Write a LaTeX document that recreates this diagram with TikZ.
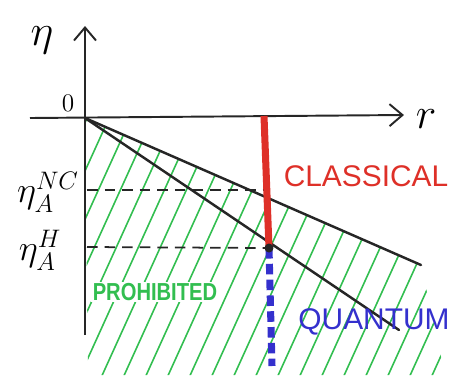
\documentclass[tikz,border=0pt]{standalone}
\usepackage{amsmath,amssymb}
\usepackage{fontspec}
\setsansfont{Liberation Sans}
\usetikzlibrary{arrows.meta,positioning}

\definecolor{skred}{RGB}{222,48,40}
\definecolor{skblue}{RGB}{52,48,205}
\definecolor{skgreen}{RGB}{50,190,80}

\begin{document}
\begin{tikzpicture}[x=0.2mm,y=-0.2mm,>={Straight Barb[length=2.6mm,width=4.4mm]},
  axis/.style={->,line width=1.1pt,draw=black!85},
  bound/.style={line width=1.4pt,draw=black!85,line cap=round},
  level/.style={line width=1pt,draw=black!85,dash pattern=on 6pt off 4pt},
  hatch/.style={draw=skgreen,line width=0.9pt},
  lab/.style={font=\sffamily\bfseries,inner sep=1pt},
  sym/.style={inner sep=0pt}]
\useasboundingbox (0,0) rectangle (459,375);

% axes and corner points
\coordinate (o) at (85,118);
\coordinate (ytop) at (85,26);
\coordinate (ybot) at (85,335);
\coordinate (xl) at (30,118);
\coordinate (xr) at (404,115);
\coordinate (up) at (421,265);
\coordinate (lo) at (399,330);
\coordinate (cl) at (264,116);
\coordinate (qt) at (269,248);
\coordinate (qb) at (272,366);
\coordinate (nc) at (87,190);
\coordinate (ncr) at (266,190);
\coordinate (h) at (87,247);

% hatched region
\begin{scope}
\clip (o) -- (up) -- (445,375) -- (88,375) -- cycle;
\foreach \s in {-120,-98,...,460}
  \draw[hatch] (\s,380) -- ++(150,-330);
\end{scope}

\node (proh) [lab,fill=white,text=skgreen,xscale=0.82,font=\sffamily\bfseries\fontsize{14}{14}\selectfont] at (155,292) {PROHIBITED};

\draw[axis] (ybot) -- (ytop);
\draw[axis] (xl) -- (xr);
\draw[bound] (o) -- (up);
\draw[bound] (o) -- (lo);

\draw[level] (nc) -- (ncr);
\draw[level] (h) -- (qt);

\draw[skred,line width=4pt] (cl) -- (qt);
\draw[skblue,line width=4pt,dash pattern=on 6pt off 3pt] (qt) -- (qb);
\fill[black!85] (qt) circle (4.5);

\node (eta) [sym,font=\fontsize{38}{38}\selectfont] at (42,40) {$\eta$};
\node (zero) [sym,font=\fontsize{15}{15}\selectfont] at (68,103) {$0$};
\node (r) [sym,font=\fontsize{24}{24}\selectfont] at (426,119) {$r$};
\node (etanc) [sym,font=\fontsize{20}{20}\selectfont] at (48,192) {$\eta_A^{NC}$};
\node (etah) [sym,font=\fontsize{20}{20}\selectfont] at (40,250) {$\eta_A^{H}$};
\node (clas) [lab,text=skred,font=\sffamily\fontsize{17}{17}\selectfont] at (366,176) {CLASSICAL};
\node (quan) [lab,text=skblue,font=\sffamily\fontsize{17}{17}\selectfont] at (374,322) {QUANTUM};
\end{tikzpicture}
\end{document}
